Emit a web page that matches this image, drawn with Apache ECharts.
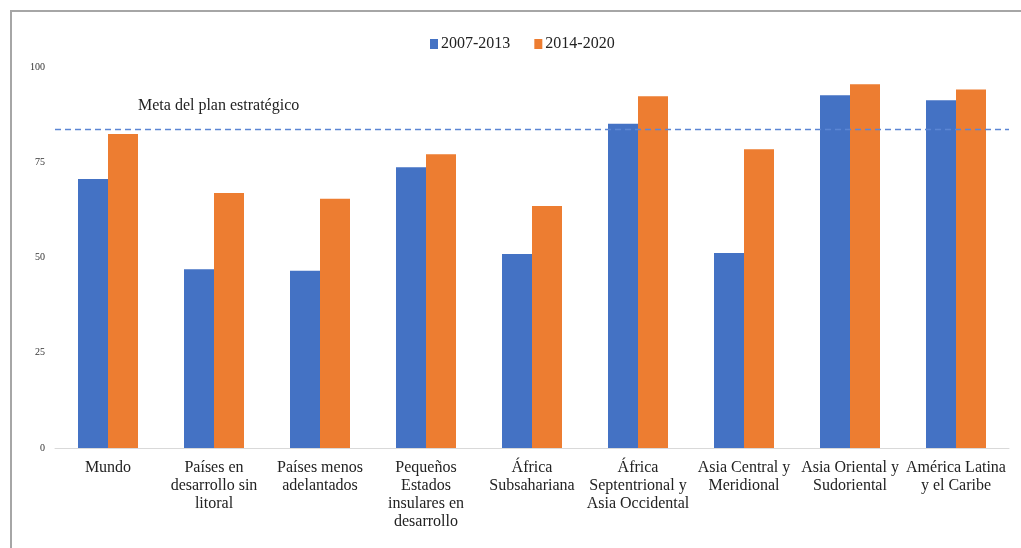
<html>
<head>
    <meta charset="utf-8">
    <script src="https://cdn.jsdelivr.net/npm/echarts@6/dist/echarts.min.js"></script>
</head>
<body style="margin:0;background:#fff;">
<style>
    #frame {
        position: absolute;
        left: 10px;
        top: 10px;
        right: 0;
        bottom: 0;
        border-top: 2px solid #a6a6a6;
        border-left: 2px solid #a6a6a6;
    }
    #main {
        position: absolute;
        left: 0;
        top: 0;
        width: 1021px;
        height: 548px;
    }
</style>
<div id="frame"></div>
<div id="main"></div>
<script>
    var categories = [
        'Mundo',
        'Países en\ndesarrollo sin\nlitoral',
        'Países menos\nadelantados',
        'Pequeños\nEstados\ninsulares en\ndesarrollo',
        'África\nSubsahariana',
        'África\nSeptentrional y\nAsia Occidental',
        'Asia Central y\nMeridional',
        'Asia Oriental y\nSudoriental',
        'América Latina\ny el Caribe'
    ];
    var seriesNames = ['2007-2013', '2014-2020'];
    var values2007 = [70.6, 46.9, 46.5, 73.7, 50.9, 85.1, 51.2, 92.6, 91.3];
    var values2014 = [82.4, 66.9, 65.4, 77.1, 63.5, 92.3, 78.4, 95.5, 94.1];
    var targetValue = 83.6;
    var targetLabel = 'Meta del plan estratégico';

    var font = 'Liberation Serif, Times New Roman, serif';
    var chart = echarts.init(document.getElementById('main'));

    var option = {
        animation: false,
        textStyle: {
            fontFamily: font,
            color: '#222'
        },
        title: {
            text: targetLabel,
            left: 133,
            top: 93,
            textStyle: {
                fontFamily: font,
                fontSize: 16,
                fontWeight: 'normal',
                color: '#222'
            }
        },
        legend: {
            data: seriesNames,
            top: 31,
            left: 425,
            itemWidth: 8,
            itemHeight: 10,
            itemGap: 24,
            icon: 'rect',
            textStyle: {
                fontFamily: font,
                fontSize: 16,
                color: '#222',
                padding: [0, 0, 0, -2]
            }
        },
        grid: {
            left: 55,
            right: 12,
            top: 67,
            bottom: 100,
            containLabel: false
        },
        xAxis: {
            type: 'category',
            data: categories,
            axisTick: {show: false},
            axisLine: {
                lineStyle: {color: '#d9d9d9', width: 1}
            },
            axisLabel: {
                interval: 0,
                margin: 11,
                fontFamily: font,
                fontSize: 16,
                lineHeight: 18,
                color: '#222'
            }
        },
        yAxis: {
            type: 'value',
            min: 0,
            max: 100,
            interval: 25,
            splitLine: {show: false},
            axisLine: {show: false},
            axisTick: {show: false},
            axisLabel: {
                margin: 10,
                fontFamily: font,
                fontSize: 10,
                color: '#333'
            }
        },
        series: [
            {
                name: seriesNames[0],
                type: 'bar',
                data: values2007,
                barWidth: 30,
                barGap: '0%',
                itemStyle: {color: '#4472c4'},
                markLine: {
                    silent: true,
                    symbol: ['none', 'none'],
                    label: {show: false},
                    emphasis: {disabled: true},
                    itemStyle: {color: '#5b86d4'},
                    lineStyle: {
                        color: '#5b86d4',
                        type: [6, 4],
                        width: 1.3,
                        opacity: 1
                    },
                    data: [{
                        yAxis: targetValue,
                        lineStyle: {color: '#5b86d4'}
                    }]
                }
            },
            {
                name: seriesNames[1],
                type: 'bar',
                data: values2014,
                barWidth: 30,
                itemStyle: {color: '#ed7d31'}
            }
        ]
    };

    chart.setOption(option);
</script>
</body>
</html>
